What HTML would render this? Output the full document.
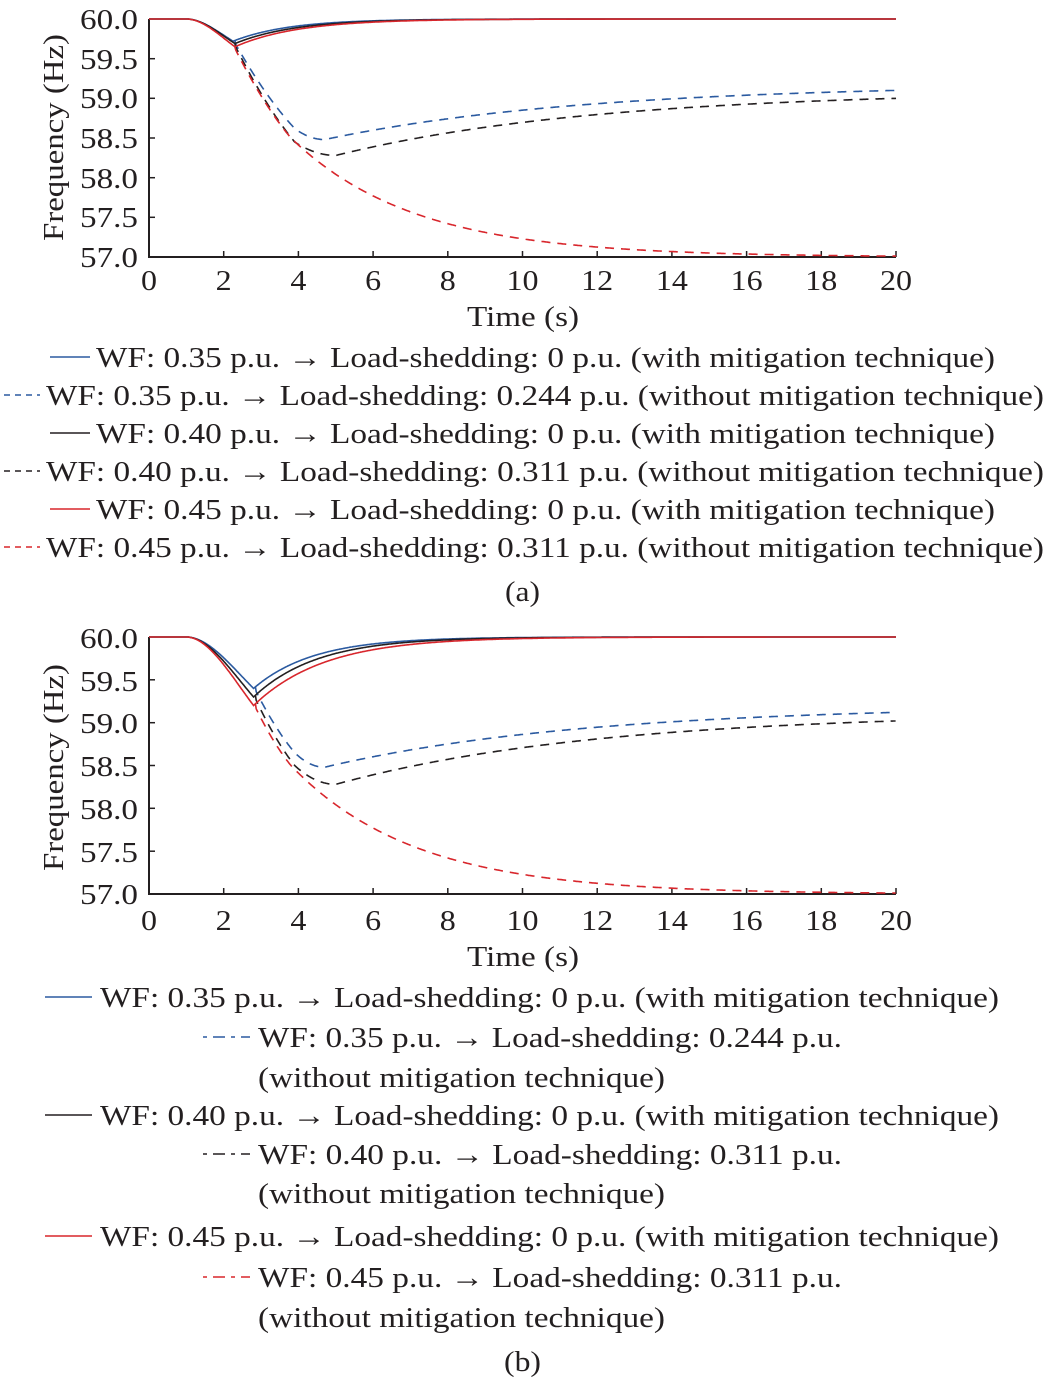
<!DOCTYPE html>
<html><head><meta charset="utf-8"><style>
html,body{margin:0;padding:0;background:#fff;}
svg{display:block;}
text{font-family:"Liberation Serif",serif;fill:#231f20;}
</style></head><body>
<svg id="s" width="1046" height="1383" viewBox="0 0 1046 1383" xmlns="http://www.w3.org/2000/svg">
<g font-size="28">
<path d="M149 19 V257 H896" fill="none" stroke="#231f20" stroke-width="2"/>
<g stroke="#231f20" stroke-width="1.5">
<line x1="149" y1="58.7" x2="155" y2="58.7"/><line x1="149" y1="98.3" x2="155" y2="98.3"/><line x1="149" y1="138" x2="155" y2="138"/><line x1="149" y1="177.7" x2="155" y2="177.7"/><line x1="149" y1="217.3" x2="155" y2="217.3"/>
<line x1="223.7" y1="257" x2="223.7" y2="251"/><line x1="298.4" y1="257" x2="298.4" y2="251"/><line x1="373.1" y1="257" x2="373.1" y2="251"/><line x1="447.8" y1="257" x2="447.8" y2="251"/><line x1="522.5" y1="257" x2="522.5" y2="251"/><line x1="597.2" y1="257" x2="597.2" y2="251"/><line x1="671.9" y1="257" x2="671.9" y2="251"/><line x1="746.6" y1="257" x2="746.6" y2="251"/><line x1="821.3" y1="257" x2="821.3" y2="251"/><line x1="896" y1="257" x2="896" y2="251"/>
</g>
<g>
<text x="80" y="29" textLength="58" lengthAdjust="spacingAndGlyphs">60.0</text><text x="80" y="69" textLength="58" lengthAdjust="spacingAndGlyphs">59.5</text><text x="80" y="108" textLength="58" lengthAdjust="spacingAndGlyphs">59.0</text><text x="80" y="148" textLength="58" lengthAdjust="spacingAndGlyphs">58.5</text><text x="80" y="188" textLength="58" lengthAdjust="spacingAndGlyphs">58.0</text><text x="80" y="227" textLength="58" lengthAdjust="spacingAndGlyphs">57.5</text><text x="80" y="267" textLength="58" lengthAdjust="spacingAndGlyphs">57.0</text>
</g>
<g>
<text x="141" y="290" textLength="16" lengthAdjust="spacingAndGlyphs">0</text><text x="215.7" y="290" textLength="16" lengthAdjust="spacingAndGlyphs">2</text><text x="290.4" y="290" textLength="16" lengthAdjust="spacingAndGlyphs">4</text><text x="365.1" y="290" textLength="16" lengthAdjust="spacingAndGlyphs">6</text><text x="439.8" y="290" textLength="16" lengthAdjust="spacingAndGlyphs">8</text><text x="506.5" y="290" textLength="32" lengthAdjust="spacingAndGlyphs">10</text><text x="581.2" y="290" textLength="32" lengthAdjust="spacingAndGlyphs">12</text><text x="655.9" y="290" textLength="32" lengthAdjust="spacingAndGlyphs">14</text><text x="730.6" y="290" textLength="32" lengthAdjust="spacingAndGlyphs">16</text><text x="805.3" y="290" textLength="32" lengthAdjust="spacingAndGlyphs">18</text><text x="880" y="290" textLength="32" lengthAdjust="spacingAndGlyphs">20</text>
<text x="467" y="326" font-size="29" textLength="112" lengthAdjust="spacingAndGlyphs">Time (s)</text>
<text transform="translate(63,241) rotate(-90)" font-size="29" textLength="207" lengthAdjust="spacingAndGlyphs">Frequency (Hz)</text>
</g>
<path d="M149 637 V894 H896" fill="none" stroke="#231f20" stroke-width="2"/>
<g stroke="#231f20" stroke-width="1.5">
<line x1="149" y1="679.8" x2="155" y2="679.8"/><line x1="149" y1="722.7" x2="155" y2="722.7"/><line x1="149" y1="765.5" x2="155" y2="765.5"/><line x1="149" y1="808.3" x2="155" y2="808.3"/><line x1="149" y1="851.2" x2="155" y2="851.2"/>
<line x1="223.7" y1="894" x2="223.7" y2="888"/><line x1="298.4" y1="894" x2="298.4" y2="888"/><line x1="373.1" y1="894" x2="373.1" y2="888"/><line x1="447.8" y1="894" x2="447.8" y2="888"/><line x1="522.5" y1="894" x2="522.5" y2="888"/><line x1="597.2" y1="894" x2="597.2" y2="888"/><line x1="671.9" y1="894" x2="671.9" y2="888"/><line x1="746.6" y1="894" x2="746.6" y2="888"/><line x1="821.3" y1="894" x2="821.3" y2="888"/><line x1="896" y1="894" x2="896" y2="888"/>
</g>
<g>
<text x="80" y="648" textLength="58" lengthAdjust="spacingAndGlyphs">60.0</text><text x="80" y="691" textLength="58" lengthAdjust="spacingAndGlyphs">59.5</text><text x="80" y="733" textLength="58" lengthAdjust="spacingAndGlyphs">59.0</text><text x="80" y="776" textLength="58" lengthAdjust="spacingAndGlyphs">58.5</text><text x="80" y="819" textLength="58" lengthAdjust="spacingAndGlyphs">58.0</text><text x="80" y="862" textLength="58" lengthAdjust="spacingAndGlyphs">57.5</text><text x="80" y="904" textLength="58" lengthAdjust="spacingAndGlyphs">57.0</text>
</g>
<g>
<text x="141" y="930" textLength="16" lengthAdjust="spacingAndGlyphs">0</text><text x="215.7" y="930" textLength="16" lengthAdjust="spacingAndGlyphs">2</text><text x="290.4" y="930" textLength="16" lengthAdjust="spacingAndGlyphs">4</text><text x="365.1" y="930" textLength="16" lengthAdjust="spacingAndGlyphs">6</text><text x="439.8" y="930" textLength="16" lengthAdjust="spacingAndGlyphs">8</text><text x="506.5" y="930" textLength="32" lengthAdjust="spacingAndGlyphs">10</text><text x="581.2" y="930" textLength="32" lengthAdjust="spacingAndGlyphs">12</text><text x="655.9" y="930" textLength="32" lengthAdjust="spacingAndGlyphs">14</text><text x="730.6" y="930" textLength="32" lengthAdjust="spacingAndGlyphs">16</text><text x="805.3" y="930" textLength="32" lengthAdjust="spacingAndGlyphs">18</text><text x="880" y="930" textLength="32" lengthAdjust="spacingAndGlyphs">20</text>
<text x="467" y="966" font-size="29" textLength="112" lengthAdjust="spacingAndGlyphs">Time (s)</text>
<text transform="translate(63,871) rotate(-90)" font-size="29" textLength="207" lengthAdjust="spacingAndGlyphs">Frequency (Hz)</text>
</g>
</g>
<g id="curves"></g>
<g font-size="29">
<line x1="50" y1="357" x2="90" y2="357" stroke="#2b5aa0" stroke-width="1.6"/>
<text x="96" y="367" textLength="899" lengthAdjust="spacingAndGlyphs">WF: 0.35 p.u. → Load-shedding: 0 p.u. (with mitigation technique)</text>
<line x1="4" y1="395" x2="40" y2="395" stroke="#2b5aa0" stroke-width="1.6" stroke-dasharray="6,5"/>
<text x="46" y="405" textLength="998" lengthAdjust="spacingAndGlyphs">WF: 0.35 p.u. → Load-shedding: 0.244 p.u. (without mitigation technique)</text>
<line x1="50" y1="433" x2="90" y2="433" stroke="#231f20" stroke-width="1.6"/>
<text x="96" y="443" textLength="899" lengthAdjust="spacingAndGlyphs">WF: 0.40 p.u. → Load-shedding: 0 p.u. (with mitigation technique)</text>
<line x1="4" y1="471" x2="40" y2="471" stroke="#231f20" stroke-width="1.6" stroke-dasharray="6,5"/>
<text x="46" y="481" textLength="998" lengthAdjust="spacingAndGlyphs">WF: 0.40 p.u. → Load-shedding: 0.311 p.u. (without mitigation technique)</text>
<line x1="50" y1="509" x2="90" y2="509" stroke="#d8262c" stroke-width="1.6"/>
<text x="96" y="519" textLength="899" lengthAdjust="spacingAndGlyphs">WF: 0.45 p.u. → Load-shedding: 0 p.u. (with mitigation technique)</text>
<line x1="4" y1="547" x2="40" y2="547" stroke="#d8262c" stroke-width="1.6" stroke-dasharray="6,5"/>
<text x="46" y="557" textLength="998" lengthAdjust="spacingAndGlyphs">WF: 0.45 p.u. → Load-shedding: 0.311 p.u. (without mitigation technique)</text>
<text x="505" y="601" textLength="35" lengthAdjust="spacingAndGlyphs">(a)</text>
<line x1="45" y1="997" x2="92" y2="997" stroke="#2b5aa0" stroke-width="1.6"/>
<text x="100" y="1007" textLength="899" lengthAdjust="spacingAndGlyphs">WF: 0.35 p.u. → Load-shedding: 0 p.u. (with mitigation technique)</text>
<line x1="203" y1="1037" x2="250" y2="1037" stroke="#2b5aa0" stroke-width="1.6" stroke-dasharray="4,6,12,6"/>
<text x="258" y="1047" textLength="584" lengthAdjust="spacingAndGlyphs">WF: 0.35 p.u. → Load-shedding: 0.244 p.u.</text>
<text x="258" y="1087" textLength="407" lengthAdjust="spacingAndGlyphs">(without mitigation technique)</text>
<line x1="45" y1="1115" x2="92" y2="1115" stroke="#231f20" stroke-width="1.6"/>
<text x="100" y="1125" textLength="899" lengthAdjust="spacingAndGlyphs">WF: 0.40 p.u. → Load-shedding: 0 p.u. (with mitigation technique)</text>
<line x1="203" y1="1154" x2="250" y2="1154" stroke="#231f20" stroke-width="1.6" stroke-dasharray="4,6,12,6"/>
<text x="258" y="1164" textLength="584" lengthAdjust="spacingAndGlyphs">WF: 0.40 p.u. → Load-shedding: 0.311 p.u.</text>
<text x="258" y="1203" textLength="407" lengthAdjust="spacingAndGlyphs">(without mitigation technique)</text>
<line x1="45" y1="1236" x2="92" y2="1236" stroke="#d8262c" stroke-width="1.6"/>
<text x="100" y="1246" textLength="899" lengthAdjust="spacingAndGlyphs">WF: 0.45 p.u. → Load-shedding: 0 p.u. (with mitigation technique)</text>
<line x1="203" y1="1277" x2="250" y2="1277" stroke="#d8262c" stroke-width="1.6" stroke-dasharray="4,6,12,6"/>
<text x="258" y="1287" textLength="584" lengthAdjust="spacingAndGlyphs">WF: 0.45 p.u. → Load-shedding: 0.311 p.u.</text>
<text x="258" y="1327" textLength="407" lengthAdjust="spacingAndGlyphs">(without mitigation technique)</text>
<text x="504" y="1371" textLength="37" lengthAdjust="spacingAndGlyphs">(b)</text>
</g>
</svg>
<script>
(function(){
var g=document.getElementById('curves');
var NS='http://www.w3.org/2000/svg';
function add(d,c,dash){var p=document.createElementNS(NS,'path');p.setAttribute('d',d);p.setAttribute('fill','none');p.setAttribute('stroke',c);p.setAttribute('stroke-width','1.6');if(dash)p.setAttribute('stroke-dasharray','9,7');g.appendChild(p);}
function path(f,t0,t1,y60,pxHz){var s='';for(var t=t0;t<=t1+1e-9;t+=0.02){var x=149+t*37.35;var y=y60+(60-f(t))*pxHz;s+=(s?'L':'M')+x.toFixed(1)+' '+y.toFixed(1);}return s;}
function solid(td,fd,tau){return function(t){if(t<1.0)return 60;if(t<td){var u=(t-1.0)/(td-1.0);return 60-(60-fd)*(u*u*(3-2*u)*0.35+u*u*0.65);}return 60-(60-fd)*Math.exp(-(t-td)/tau);};}
function dashed(s,td,fd,tk,fk,tm,fm,fend){return function(t){if(t<=td)return s(t);if(t<tk){var u=(t-td)/(tk-td);return fd+(fk-fd)*(u*(1.25-0.25*u));}if(t<tm){var u2=(t-tk)/(tm-tk);return fk+(fm-fk)*(1-(1-u2)*(1-u2));}var e=(1-Math.exp(-(t-tm)/7))/(1-Math.exp(-(20-tm)/7));return fm+(fend-fm)*e;};}
function red(s,td,fd,tk,fk){return function(t){if(t<=td)return s(t);if(t<tk){var u=(t-td)/(tk-td);return fd+(fk-fd)*(u*(1.25-0.25*u));}return 57.0+(fk-57.0)*Math.exp(-(t-tk)/3.3);};}
var C={b:'#2b5aa0',k:'#231f20',r:'#d8262c'};
var A={y:19,p:79.33};
var sb=solid(2.25,59.72,1.5),sk=solid(2.3,59.69,1.6),sr=solid(2.3,59.65,1.7);
add(path(dashed(sb,2.3,59.70,3.9,58.62,4.7,58.48,59.1),2.3,20,A.y,A.p),C.b,1);
add(path(dashed(sk,2.3,59.67,3.9,58.45,5.0,58.28,59.0),2.3,20,A.y,A.p),C.k,1);
add(path(red(sr,2.3,59.63,3.8,58.5),2.3,20,A.y,A.p),C.r,1);
add(path(sb,0,20,A.y,A.p),C.b);add(path(sk,0,20,A.y,A.p),C.k);add(path(sr,0,20,A.y,A.p),C.r);
var B={y:637,p:85.67};
var tb=solid(2.8,59.4,1.6),tk=solid(2.8,59.3,1.7),tr=solid(2.8,59.2,1.9);
add(path(dashed(tb,2.85,59.38,3.9,58.65,4.7,58.48,59.12),2.85,20,B.y,B.p),C.b,1);
add(path(dashed(tk,2.85,59.28,3.9,58.5,5.0,58.28,59.02),2.85,20,B.y,B.p),C.k,1);
add(path(red(tr,2.85,59.18,3.8,58.5),2.85,20,B.y,B.p),C.r,1);
add(path(tb,0,20,B.y,B.p),C.b);add(path(tk,0,20,B.y,B.p),C.k);add(path(tr,0,20,B.y,B.p),C.r);
})();
</script>
</body></html>
